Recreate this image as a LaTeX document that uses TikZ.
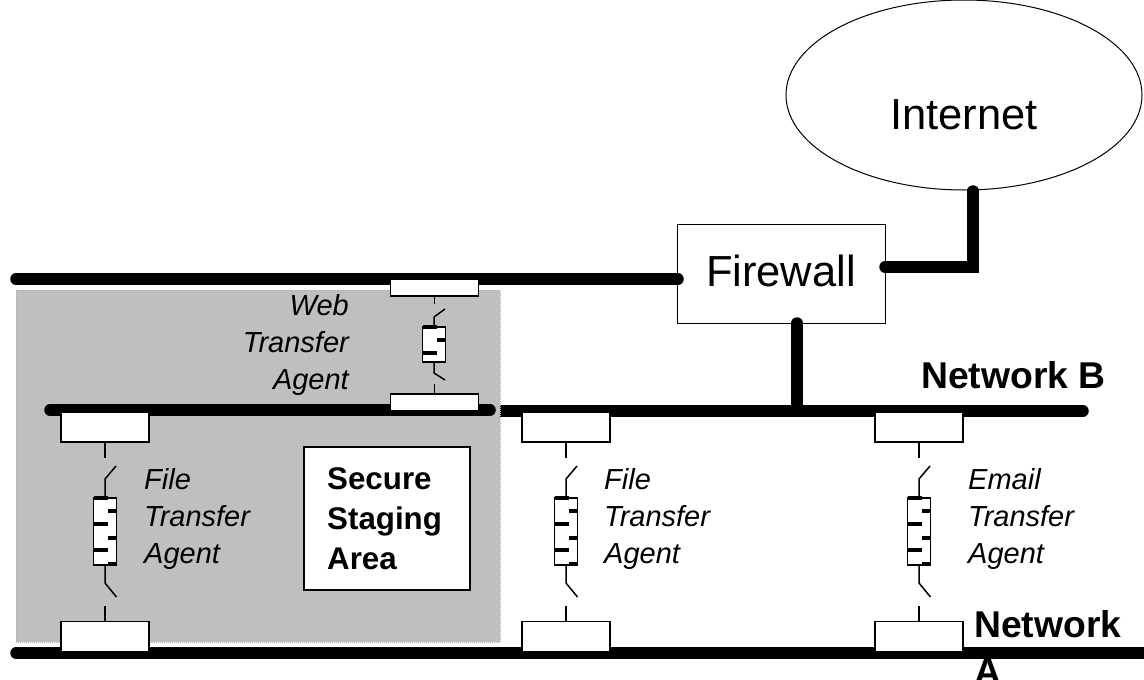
\documentclass[tikz,border=0pt]{standalone}
\usepackage{fontspec}
\usetikzlibrary{shapes.geometric}
\setmainfont{Liberation Sans}
\tikzset{
  net/.style={line width=11.5pt,line cap=round,line join=miter},
  stub/.style={line width=1.5pt},
  tick/.style={line width=3.4pt},
  port/.style={draw,fill=white,line width=1.5pt,inner sep=0pt,outer sep=0pt,minimum width=88pt,minimum height=30pt},
  wport/.style={port,minimum height=17pt},
  res/.style={draw,fill=white,line width=1.5pt,inner sep=0pt,outer sep=0pt,minimum width=23pt,minimum height=67pt},
  wres/.style={res,minimum height=35pt},
  ital/.style={font=\fontsize{29}{37}\selectfont\itshape,inner sep=0pt,anchor=north west,align=left},
  big/.style={font=\fontsize{43.5}{48}\selectfont,inner sep=0pt},
  bold/.style={font=\fontsize{31.3}{40}\selectfont\bfseries,inner sep=0pt},
  netlab/.style={font=\fontsize{37.3}{47}\selectfont\bfseries,inner sep=0pt},
}
\newcommand{\fagent}[2]{%
  \node[port] (#1t) at (#2,427) {};
  \node[port] (#1b) at (#2,636.5) {};
  \node[res] (#1r) at (#2,531.5) {};
  \draw[stub] (#1t.south) -- ++(0,16);
  \draw[stub] (#1r.north) -- ++(0,-19) -- ++(11,-13);
  \draw[stub] (#1r.south) -- ++(0,18) -- ++(11.5,14);
  \draw[stub] (#1b.north) -- ++(0,-16);
  \draw[tick] (#1r.north west) -- ++(14,0);
  \draw[tick] (#1r.west) ++(0,-7.5) -- ++(14,0);
  \draw[tick] (#1r.west) ++(0,18.5) -- ++(14,0);
  \draw[tick] (#1r.east) ++(0,-20.5) -- ++(-9,0);
  \draw[tick] (#1r.east) ++(0,6.5) -- ++(-9,0);
  \draw[tick] (#1r.east) ++(0,32.5) -- ++(-9,0);
}
\begin{document}
\begin{tikzpicture}[x=1pt,y=-1pt]
\useasboundingbox (0,0) rectangle (1144,680);
\fill[white] (0,0) rectangle (1144,680);
% internet
\node[draw,ellipse,line width=1pt,minimum width=356pt,minimum height=190pt,inner sep=0pt,outer sep=0pt] (inet) at (964,95) {};
\node[big] (inetlab) at (964,115) {Internet};
% firewall
\node[draw,fill=white,line width=1pt,inner sep=0pt,outer sep=0pt,minimum width=208pt,minimum height=99pt] (fw) at (781,273.5) {};
\node[big] (fwlab) at (781,271) {Firewall};
% network B right part, hidden by the staging area on the left
\coordinate (nbl) at (490,411);
\coordinate (nbr) at (1083,411);
\draw[net] (nbl) -- (nbr);
% staging area
\node[draw=gray!60,densely dotted,fill=black!25,line width=1pt,inner sep=0pt,outer sep=0pt,minimum width=484pt,minimum height=352pt] (area) at (258,466) {};
% nets
\coordinate (nt) at (16,279);
\coordinate (ftop) at (678,279);
\draw[net] (nt) -- (ftop);
\coordinate (nb1) at (50,410);
\coordinate (nb2) at (490,410);
\draw[net] (nb1) -- (nb2);
\coordinate (na1) at (16,653);
\coordinate (na2) at (1150,653);
\draw[net] (na1) -- (na2);
\coordinate (fe) at (885,267);
\coordinate (fc) at (973,267);
\coordinate (ib) at (973,191);
\draw[net] (fe) -- (fc) -- (ib);
\coordinate (fs) at (797,323);
\coordinate (fn) at (797,411);
\draw[net] (fs) -- (fn);
% agents
\fagent{a}{105}
\fagent{b}{566}
\fagent{c}{919}
% web agent
\node[wport] (wt) at (434.5,287.5) {};
\node[wport] (wb) at (434.5,402.5) {};
\node[wres] (wr) at (434,344.5) {};
\draw[stub] (wt.south) -- ++(0,8);
\draw[stub] (wr.north) -- ++(0,-10) -- ++(11,-8);
\draw[stub] (wr.south) -- ++(0,11) -- ++(11,7);
\draw[stub] (wb.north) -- ++(0,-10);
\draw[tick] (wr.north west) -- ++(14,0);
\draw[tick] (wr.west) ++(0,8.5) -- ++(14,0);
\draw[tick] (wr.east) ++(0,-4.5) -- ++(-9,0);
% labels
\node[ital,align=right,anchor=north east] (lw) at (349,294) {Web\\Transfer\\Agent};
\node[ital] (la) at (144,468) {File\\Transfer\\Agent};
\node[ital] (lb) at (604,468) {File\\Transfer\\Agent};
\node[ital] (lc) at (968,468) {Email\\Transfer\\Agent};
% staging label
\node[draw,fill=white,line width=1.2pt,inner sep=0pt,outer sep=0pt,minimum width=166pt,minimum height=143pt] (sb) at (387,518.5) {};
\node[bold,align=left,anchor=north west] (sl) at (327,467) {Secure\\Staging\\Area};
% network labels
\node[netlab,anchor=base west] (lnb) at (921,388) {Network B};
\node[netlab,anchor=north west,align=left] (lna) at (974,610) {Network\\A};
\end{tikzpicture}
\end{document}
